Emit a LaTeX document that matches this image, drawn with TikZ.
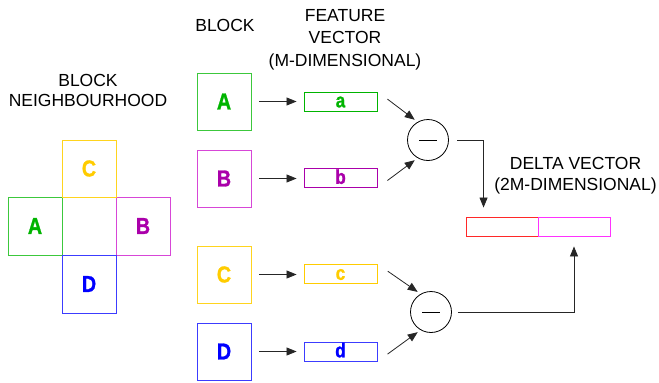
\documentclass[tikz,border=0pt]{standalone}
\usepackage{fontspec}
\usepackage{graphicx}
\setmainfont{Liberation Sans}[BoldFeatures={FakeBold=1.2}]
\newcommand\sqzletter[1]{\scalebox{0.86}[1]{\bfseries #1}}
\usetikzlibrary{arrows.meta}
\definecolor{gtext}{RGB}{0,180,0}
\definecolor{gline}{RGB}{60,200,60}
\definecolor{ytext}{RGB}{255,204,0}
\definecolor{yline}{RGB}{255,212,30}
\definecolor{mtext}{RGB}{170,0,170}
\definecolor{mline}{RGB}{215,70,215}
\definecolor{btext}{RGB}{0,0,255}
\definecolor{bline}{RGB}{60,60,255}
\definecolor{dred}{RGB}{255,40,40}
\definecolor{dmag}{RGB}{255,50,255}
\begin{document}
\begin{tikzpicture}[x=1pt,y=-1pt,
  blk/.style={draw, line width=0.9pt, minimum width=54pt, minimum height=57pt, inner sep=0pt,
    font=\bfseries\fontsize{23}{23}\selectfont},
  nb/.style={blk, minimum height=58pt},
  feat/.style={draw, line width=0.9pt, minimum width=73pt, minimum height=19pt, inner sep=0pt,
    text height=13pt, text depth=1.4pt,
    font=\bfseries\fontsize{20}{20}\selectfont},
  dbox/.style={draw, line width=0.9pt, minimum width=72pt, minimum height=19pt, inner sep=0pt},
  circ/.style={draw, circle, minimum size=41pt, inner sep=0pt, line width=0.8pt},
  arr/.style={-{Triangle[length=10pt,width=8pt]}, line width=0.8pt, black!85},
  lab/.style={align=center, inner sep=0pt}
]
\useasboundingbox (0,0) rectangle (659,383);

% labels
\node[lab, font=\fontsize{17.5}{19.5}\selectfont] (lnb) at (88,90.5) {BLOCK\\NEIGHBOURHOOD};
\node[lab, font=\fontsize{17.5}{21}\selectfont] (lblk) at (225,25) {BLOCK};
\node[lab, font=\fontsize{17.5}{22.5}\selectfont] (lfeat) at (345,39.4) {FEATURE\\VECTOR\\(M-DIMENSIONAL)};
\node[lab, font=\fontsize{17.5}{21}\selectfont] (ldelta) at (575.5,175.4) {DELTA VECTOR\\(2M-DIMENSIONAL)};

% neighbourhood
\node[nb, draw=gline, text=gtext] (nA) at (35,226) {\sqzletter{A}};
\node[nb, draw=mline, text=mtext] (nB) at (143,226) {\sqzletter{B}};
\node[nb, draw=yline, text=ytext, minimum height=57pt] (nC) at (89,168.5) {\sqzletter{C}};
\node[nb, draw=bline, text=btext] (nD) at (89,284) {\sqzletter{D}};

% blocks
\node[blk, draw=gline, text=gtext] (bA) at (224,101.5) {\sqzletter{A}};
\node[blk, draw=mline, text=mtext] (bB) at (224,178.5) {\sqzletter{B}};
\node[blk, draw=yline, text=ytext] (bC) at (224,274.5) {\sqzletter{C}};
\node[blk, draw=bline, text=btext] (bD) at (224,351.5) {\sqzletter{D}};

% feature vectors
\node[feat, draw=gtext, text=gtext] (fa) at (340.5,101.5) {\sqzletter{a}};
\node[feat, draw=mtext, text=mtext] (fb) at (340.5,178) {\sqzletter{b}};
\node[feat, draw=ytext, text=ytext] (fc) at (340.5,274) {\sqzletter{c}};
\node[feat, draw=bline, text=btext] (fd) at (340.5,351.5) {\sqzletter{d}};

% block -> feature arrows
\foreach \s/\t in {bA/fa,bB/fb,bC/fc,bD/fd}
  \draw[arr, shorten <=8pt, shorten >=7pt] (\s.east) -- (\s.east -| \t.west);

% minus circles
\node[circ] (m1) at (428,140) {};
\node[circ] (m2) at (431,312) {};
\draw[line width=0.8pt] ([xshift=-9pt]m1.center) -- ([xshift=9pt]m1.center);
\draw[line width=0.8pt] ([xshift=-9pt]m2.center) -- ([xshift=9pt]m2.center);

% feature -> circle arrows
\draw[arr, shorten <=12.5pt, shorten >=3.5pt] (fa.north east) -- (m1.120);
\draw[arr, shorten <=12.5pt, shorten >=3.5pt] (fb.south east) -- (m1.240);
\draw[arr, shorten <=12.5pt, shorten >=3.5pt] (fc.north east) -- (m2.120);
\draw[arr, shorten <=12.5pt, shorten >=3.5pt] (fd.south east) -- (m2.240);

% delta vector
\node[dbox, draw=dred] (dl) at (502,226.5) {};
\node[dbox, draw=dmag] (dr) at (574,226.5) {};

% circle -> delta arrows
\draw[arr, shorten <=8.5pt, shorten >=9pt] (m1.east) -| ([xshift=18pt]dl.north west);
\draw[arr, shorten <=6pt, shorten >=10pt] (m2.east) -| (dr.south);
\end{tikzpicture}
\end{document}
